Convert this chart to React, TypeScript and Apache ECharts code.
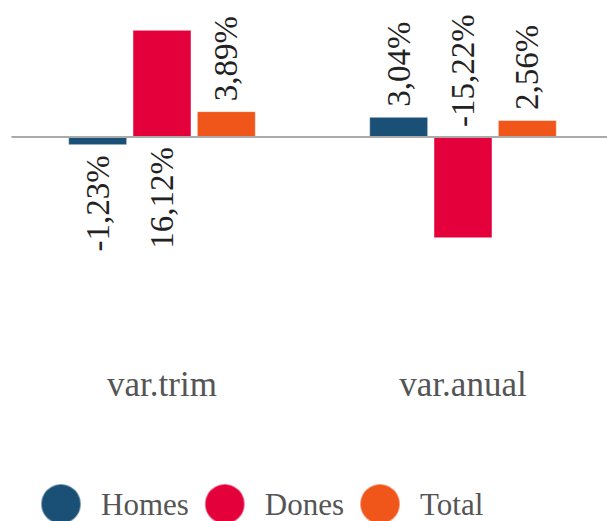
import React, { useEffect, useRef } from "react";
import * as echarts from "echarts";

const categories = ["var.trim", "var.anual"];
const seriesNames = ["Homes", "Dones", "Total"];
const homesValues = [-1.23, 3.04];
const donesValues = [16.12, -15.22];
const totalValues = [3.89, 2.56];
// label side per point: "top" = above the bar / axis, "bottom" = below
const homesLabelSide = ["bottom", "top"];
const donesLabelSide = ["bottom", "top"];
const totalLabelSide = ["top", "top"];

const colors = ["#1a5076", "#e4003b", "#f0561a"];
const FONT = "Liberation Serif";

function fmt(v: number) {
  return v.toFixed(2).replace(".", ",") + "%";
}

function labelFor(side: string) {
  return {
    show: true,
    position: side,
    rotate: 90,
    align: side === "top" ? "left" : "right",
    verticalAlign: "middle",
    distance: 10,
    fontFamily: FONT,
    fontSize: 33,
    color: "#222",
    formatter: (p: any) => fmt(p.value),
  };
}

function buildData(values: number[], sides: string[]) {
  return values.map((v, i) => ({ value: v, label: labelFor(sides[i]) }));
}

export default function App() {
  const ref = useRef<HTMLDivElement>(null);
  useEffect(() => {
    document.body.style.margin = "0";
    document.body.style.overflow = "hidden";
    if (!ref.current) return;
    const chart = echarts.init(ref.current, undefined, { renderer: "svg" });
    const mk = (name: string, values: number[], sides: string[], color: string, withLine: boolean) => ({
      name,
      type: "bar",
      barWidth: 59,
      barGap: "9%",
      itemStyle: { color, borderColor: "rgba(255,255,255,0.45)", borderWidth: 1 },
      data: buildData(values, sides),
      markLine: withLine
        ? {
            silent: true,
            symbol: "none",
            label: { show: false },
            lineStyle: { color: "#aaaaaa", width: 2, type: "solid" },
            data: [{ yAxis: 0 }],
          }
        : undefined,
    });
    chart.setOption({
      animation: false,
      color: colors,
      grid: { left: 11.5, top: 4, width: 602, height: 332.5 },
      xAxis: {
        type: "category",
        data: categories,
        axisLine: { show: false, onZero: false },
        axisTick: { show: false },
        axisLabel: { margin: 30, fontFamily: FONT, fontSize: 35, color: "#555" },
      },
      yAxis: {
        type: "value",
        min: -30,
        max: 20,
        show: false,
        splitLine: { show: false },
      },
      legend: {
        data: seriesNames,
        icon: "circle",
        left: 40,
        top: 483,
        itemWidth: 40,
        itemHeight: 40,
        itemGap: 15,
        padding: 0,
        textStyle: {
          fontFamily: FONT,
          fontSize: 31,
          color: "#555",
          padding: [8, 0, 0, 15],
        },
      },
      series: [
        mk(seriesNames[0], homesValues, homesLabelSide, colors[0], false),
        mk(seriesNames[1], donesValues, donesLabelSide, colors[1], false),
        mk(seriesNames[2], totalValues, totalLabelSide, colors[2], true),
      ],
    });
    return () => chart.dispose();
  }, []);
  return (
    <div style={{ width: 607, height: 521, overflow: "hidden" }}>
      <div ref={ref} style={{ width: 614, height: 521 }} />
    </div>
  );
}
